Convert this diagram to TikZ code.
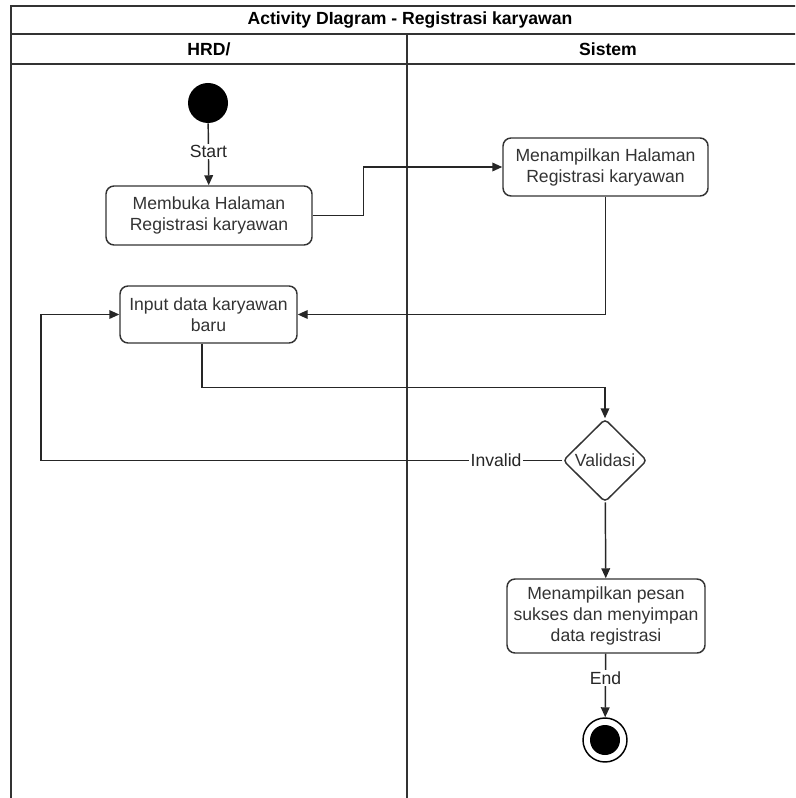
\documentclass[tikz,border=0pt]{standalone}
\usepackage{fontspec}
\setmainfont{Liberation Sans}
\usetikzlibrary{arrows.meta,shapes.geometric}

\begin{document}
\begin{tikzpicture}[x=0.75pt,y=-0.75pt,
    font=\fontsize{13.2}{15.8}\selectfont,
    >={Triangle[length=7.5pt,width=6.5pt]},
    lane/.style={draw=black!80,line width=1.3pt},
    act/.style={draw=black!80,line width=1.1pt,rounded corners=6pt,
      align=center,text=black!80,inner sep=0pt},
    flow/.style={->,line width=1.1pt,draw=black!85},
    lbl/.style={fill=white,inner sep=1pt,text=black!85}]
    \useasboundingbox (0,0) rectangle (795,798);
    \clip (0,0) rectangle (795,798);
    % swimlanes
    \draw[lane] (11,798) -- (11,6) -- (809,6) -- (809,798);
    \draw[lane] (11,34) -- (809,34);
    \draw[lane] (11,64) -- (809,64);
    \draw[lane] (407,34) -- (407,798);
    \node[font=\fontsize{13.2}{15.8}\bfseries] (title) at (410,20) {Activity DIagram - Registrasi karyawan};
    \node[font=\fontsize{13.2}{15.8}\bfseries] (hrd) at (209,49) {HRD/};
    \node[font=\fontsize{13.2}{15.8}\bfseries] (sistem) at (608,49) {Sistem};
    % nodes
    \node[circle,fill=black,minimum size=30pt,inner sep=0pt] (start) at (208,103) {};
    \node[act,minimum width=154.5pt,minimum height=44.25pt] (buka) at (209,215.5) {Membuka Halaman\\Registrasi karyawan};
    \node[act,minimum width=153.75pt,minimum height=43.5pt] (tampil) at (605.5,167) {Menampilkan Halaman\\Registrasi karyawan};
    \node[act,minimum width=132.75pt,minimum height=42.75pt] (input) at (208.5,314.5) {Input data karyawan\\baru};
    \node[act,diamond,shape aspect=1,rounded corners=3pt,minimum width=63pt,minimum height=62.25pt] (validasi) at (605,460.5) {Validasi};
    \node[act,minimum width=148.5pt,minimum height=55.5pt] (sukses) at (606,616) {Menampilkan pesan\\sukses dan menyimpan\\data registrasi};
    \node[circle,draw=black,line width=1.1pt,minimum size=33pt,inner sep=0pt] (end) at (605,740) {};
    \node[circle,fill=black,minimum size=22.5pt,inner sep=0pt] (endcore) at (end) {};
    \coordinate (loop) at (41,460.5);
    % edges
    \draw[flow] (start) -- node[lbl,pos=0.45] {Start} (buka);
    \draw[flow] (buka.east) -- ++(51,0) |- (tampil.west);
    \draw[flow] (tampil.south) |- (input.east);
    \draw[flow] ([xshift=-5pt]input.south) -- ++(0,44) -| (validasi.north);
    \draw[flow] (validasi.west) -- node[lbl,pos=0.127] {Invalid} (loop) |- (input.west);
    \draw[flow] (validasi) -- (sukses);
    \draw[flow] (sukses) -- node[lbl,pos=0.38] {End} (end);
  \end{tikzpicture}
\end{document}
